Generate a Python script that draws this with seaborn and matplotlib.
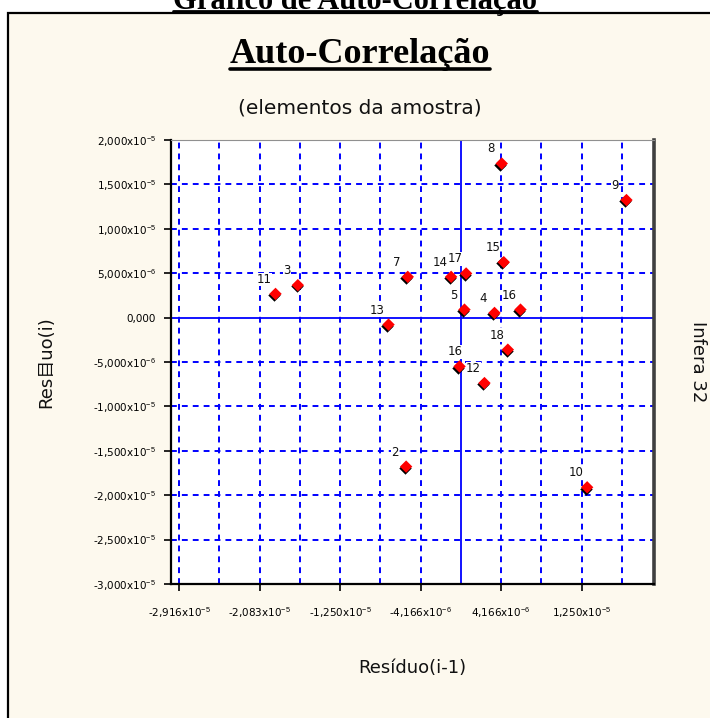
import numpy as np
import pandas as pd
import matplotlib
matplotlib.use("Agg")
import matplotlib.pyplot as plt
import matplotlib.transforms as mtransforms
from matplotlib.lines import Line2D
from matplotlib.patches import Rectangle
import seaborn as sns

# ---------------- data ----------------
point_labels = ["2", "3", "4", "5", "16", "7", "8", "9", "10",
                "11", "12", "13", "14", "15", "16", "17", "18"]
residuo_prev = [-5.66e-6, -1.687e-5, 3.49e-6, 3.8e-7, -1.3e-7, -5.49e-6, 4.24e-6,
                1.715e-5, 1.308e-5, -1.918e-5, 2.45e-6, -7.48e-6, -1.00e-6,
                4.45e-6, 6.18e-6, 5.5e-7, 4.87e-6]
residuo_cur = [-1.678e-5, 3.65e-6, 5.3e-7, 9.0e-7, -5.50e-6, 4.59e-6, 1.735e-5,
               1.324e-5, -1.911e-5, 2.67e-6, -7.37e-6, -7.9e-7, 4.59e-6,
               6.24e-6, 9.0e-7, 4.97e-6, -3.61e-6]

y_ticks = [-3.0e-5, -2.5e-5, -2.0e-5, -1.5e-5, -1.0e-5, -5.0e-6, 0.0,
           5.0e-6, 1.0e-5, 1.5e-5, 2.0e-5]
y_tick_labels = ["-3,000x10$^{-5}$", "-2,500x10$^{-5}$", "-2,000x10$^{-5}$",
                 "-1,500x10$^{-5}$", "-1,000x10$^{-5}$", "-5,000x10$^{-6}$",
                 "0,000", "5,000x10$^{-6}$", "1,000x10$^{-5}$",
                 "1,500x10$^{-5}$", "2,000x10$^{-5}$"]
x_ticks = [-2.9166e-5, -2.0833e-5, -1.25e-5, -4.1666e-6, 4.1666e-6, 1.25e-5]
x_tick_labels = ["-2,916x10$^{-5}$", "-2,083x10$^{-5}$", "-1,250x10$^{-5}$",
                 "-4,166x10$^{-6}$", "4,166x10$^{-6}$", "1,250x10$^{-5}$"]
x_minor_grid = [-2.5e-5, -1.6666e-5, -8.333e-6, 8.333e-6, 1.6666e-5]

df = pd.DataFrame({"prev": residuo_prev, "cur": residuo_cur, "label": point_labels})

# ---------------- style ----------------
sns.set_theme(style="white")
plt.rcParams["font.family"] = ["DejaVu Sans", "Noto Sans CJK SC"]
plt.rcParams["mathtext.fontset"] = "custom"
plt.rcParams["mathtext.rm"] = "Liberation Sans"
plt.rcParams["mathtext.it"] = "Liberation Sans"

W, H = 710, 718
fig = plt.figure(figsize=(W / 100, H / 100), dpi=100)
fig.patch.set_facecolor("white")

# cream panel
panel = Rectangle((8 / W, -0.05), 1.2, 1 - 13 / H + 0.05, transform=fig.transFigure,
                  facecolor="#FDF9EE", edgecolor="black", linewidth=1.6, zorder=-10)
fig.patches.append(panel)

ax = fig.add_axes([171 / W, 1 - 584 / H, (654 - 171) / W, (584 - 140) / H])
ax.set_zorder(1)
ax.set_facecolor("white")
ax.set_xlim(-3.0e-5, 2.0e-5)
ax.set_ylim(-3.0e-5, 2.0e-5)

# grid
grid_kw = dict(color="#0000FF", linewidth=1.4, linestyle=(0, (3, 2.6)), zorder=1)
for yv in y_ticks:
    if yv != 0.0:
        ax.axhline(yv, **grid_kw)
for xv in x_ticks + x_minor_grid:
    ax.axvline(xv, **grid_kw)
ax.axhline(0.0, color="#0000FF", linewidth=1.3, zorder=1.5)
ax.axvline(0.0, color="#0000FF", linewidth=1.3, zorder=1.5)

# shadow + markers
shadow = mtransforms.offset_copy(ax.transData, fig=fig, x=-1.3, y=-1.3, units="dots")
ax.scatter(df["prev"], df["cur"], marker="D", s=40, color="black",
           transform=shadow, zorder=3, linewidths=0)
sns.scatterplot(data=df, x="prev", y="cur", marker="D", s=40, color="#FF0000",
                edgecolor="none", linewidth=0, ax=ax, zorder=4, legend=False)

for _, r in df.iterrows():
    dx = -3 if (r["label"] == "16" and r["cur"] < 0) else -8
    ax.annotate(r["label"], (r["prev"], r["cur"]), xytext=(dx, 10.5),
                textcoords="offset points", ha="center", va="center",
                fontsize=8.5, color="#111111", zorder=5,
                bbox=dict(facecolor="white", edgecolor="none", pad=0.2))

# axes styling
ax.set_xticks(x_ticks)
ax.set_xticklabels(x_tick_labels)
ax.set_yticks(y_ticks)
ax.set_yticklabels(y_tick_labels)
ax.tick_params(axis="both", which="major", direction="out", length=5, width=1.2,
               color="black", labelsize=7.5, labelcolor="black", pad=6,
               bottom=True, left=True)
ax.tick_params(axis="x", pad=10)
ax.set_xlabel("Resíduo(i-1)", fontsize=13, labelpad=28, color="#111111")
ax.set_ylabel("Res目uo(i)", fontsize=13, labelpad=27, color="#111111")
for side in ["left", "bottom"]:
    ax.spines[side].set_color("black")
    ax.spines[side].set_linewidth(1.6)
ax.spines["top"].set_color("#909090")
ax.spines["top"].set_linewidth(0.8)
ax.spines["right"].set_color("#404040")
ax.spines["right"].set_linewidth(2.6)

fig.text(698 / W, 1 - 362 / H, "Infera 32", rotation=-90, fontsize=13,
         ha="center", va="center", color="#111111")

# titles
t_outer = fig.text(355 / W, 1 - 9 / H, "Gráfico de Auto-Correlação",
                   family="Liberation Serif", weight="bold", fontsize=22,
                   ha="center", va="baseline", color="black")
t_main = fig.text(360 / W, 1 - 63 / H, "Auto-Correlação", family="Liberation Serif",
                  weight="bold", fontsize=26, ha="center", va="baseline", color="black")
t_sub = fig.text(360 / W, 1 - 108 / H, "(elementos da amostra)", fontsize=14.5,
                 ha="center", va="center", color="#111111")

fig.canvas.draw()
renderer = fig.canvas.get_renderer()
for t, ypix, lw in [(t_outer, 11, 2.0), (t_main, 68.5, 2.6)]:
    bb = t.get_window_extent(renderer)
    line = Line2D([bb.x0 / W, bb.x1 / W], [1 - ypix / H, 1 - ypix / H],
                  transform=fig.transFigure, color="black", linewidth=lw)
    fig.lines.append(line)

fig.savefig("out.png", dpi=100)
